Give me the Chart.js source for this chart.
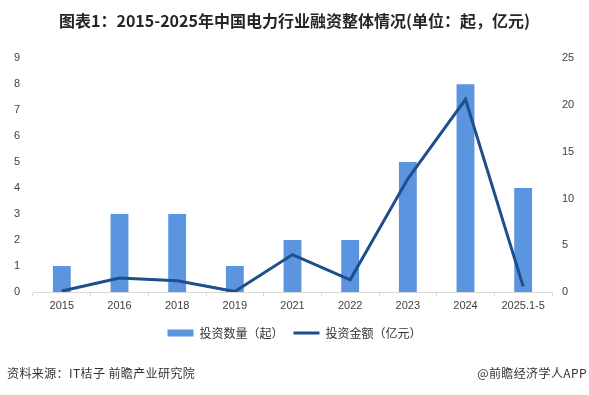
<!doctype html>
<html>

<head>
  <meta charset="utf-8">
  <title>电力行业融资整体情况</title>
  <script src="https://cdn.jsdelivr.net/npm/chart.js@4.4.1/dist/chart.umd.min.js"></script>
  <style>
    html, body {
      margin: 0;
      padding: 0;
      background: #fff;
    }
    .wrap {
      position: relative;
      width: 589px;
      height: 395px;
    }
    .note {
      position: absolute;
      top: 365px;
      font-family: "Noto Sans CJK SC", sans-serif;
      font-size: 12px;
      line-height: 16px;
      color: #333;
      letter-spacing: 0.4px;
      white-space: nowrap;
    }
    .source {
      left: 7px;
    }
    .brand {
      right: 2px;
    }
  </style>
</head>

<body>
  <div class="wrap">
    <canvas id="myChart" width="589" height="395"></canvas>
    <div class="note source">资料来源：IT桔子 前瞻产业研究院</div>
    <div class="note brand">@前瞻经济学人APP</div>
  </div>

  <script>
    var years = ['2015', '2016', '2018', '2019', '2021', '2022', '2023', '2024', '2025.1-5'];
    var dealCount = [1, 3, 3, 1, 2, 2, 5, 8, 4];
    var dealAmount = [0.1, 1.5, 1.2, 0.05, 4.0, 1.3, 12.1, 20.6, 0.6];

    var barColor = '#5b95e0';
    var lineColor = '#1f4e8c';
    var tickFont = { family: 'Liberation Sans', size: 11 };

    var config = {
      data: {
        labels: years,
        datasets: [{
          type: 'bar',
          label: '投资数量（起）',
          data: dealCount,
          backgroundColor: barColor,
          borderWidth: 0,
          barPercentage: 0.62,
          categoryPercentage: 0.5,
          yAxisID: 'y',
          order: 2
        }, {
          type: 'line',
          label: '投资金额（亿元）',
          data: dealAmount,
          borderColor: lineColor,
          backgroundColor: lineColor,
          borderWidth: 3,
          pointRadius: 0,
          tension: 0,
          yAxisID: 'y1',
          order: 1
        }]
      },
      options: {
        responsive: false,
        animation: false,
        layout: {
          padding: { left: 0, right: 0, top: 0, bottom: 46 }
        },
        scales: {
          x: {
            offset: true,
            grid: {
              offset: true,
              drawOnChartArea: false,
              drawTicks: true,
              tickLength: 4,
              color: '#d9d9d9'
            },
            border: { color: '#d9d9d9' },
            ticks: {
              font: tickFont,
              color: '#404040',
              padding: 3,
              maxRotation: 0,
              autoSkip: false
            },
            afterFit: function(scale) {
              scale.height = 25;
            }
          },
          y: {
            position: 'left',
            min: 0,
            max: 9,
            grid: { display: false, drawTicks: false },
            border: { display: false },
            ticks: {
              stepSize: 1,
              font: tickFont,
              color: '#404040',
              padding: 13
            },
            afterFit: function(scale) {
              scale.width = 33;
            }
          },
          y1: {
            position: 'right',
            min: 0,
            max: 25,
            grid: { display: false, drawTicks: false },
            border: { display: false },
            ticks: {
              stepSize: 5,
              font: tickFont,
              color: '#404040',
              padding: 10
            },
            afterFit: function(scale) {
              scale.width = 37;
            }
          }
        },
        plugins: {
          title: {
            display: true,
            text: '图表1：2015-2025年中国电力行业融资整体情况(单位：起，亿元)',
            color: '#262626',
            font: { family: 'Noto Sans CJK SC', size: 16, weight: 'bold' },
            padding: { top: 11, bottom: 28 }
          },
          legend: {
            position: 'bottom',
            labels: {
              usePointStyle: true,
              pointStyleWidth: 26,
              boxHeight: 7,
              padding: 10,
              color: '#333',
              font: { family: 'Noto Sans CJK SC', size: 12 },
              sort: function(a, b) {
                return a.datasetIndex - b.datasetIndex;
              },
              generateLabels: function(chart) {
                var items = Chart.defaults.plugins.legend.labels.generateLabels(chart);
                items.forEach(function(item) {
                  if (item.datasetIndex === 0) {
                    item.pointStyle = 'rect';
                    item.lineWidth = 0;
                    item.fillStyle = barColor;
                  } else {
                    item.pointStyle = 'line';
                    item.lineWidth = 3;
                    item.strokeStyle = lineColor;
                  }
                });
                return items;
              }
            }
          },
          tooltip: { enabled: false }
        }
      }
    };

    window.onload = function() {
      var ctx = document.getElementById('myChart').getContext('2d');
      window.myChart = new Chart(ctx, config);
    };
  </script>
</body>

</html>
